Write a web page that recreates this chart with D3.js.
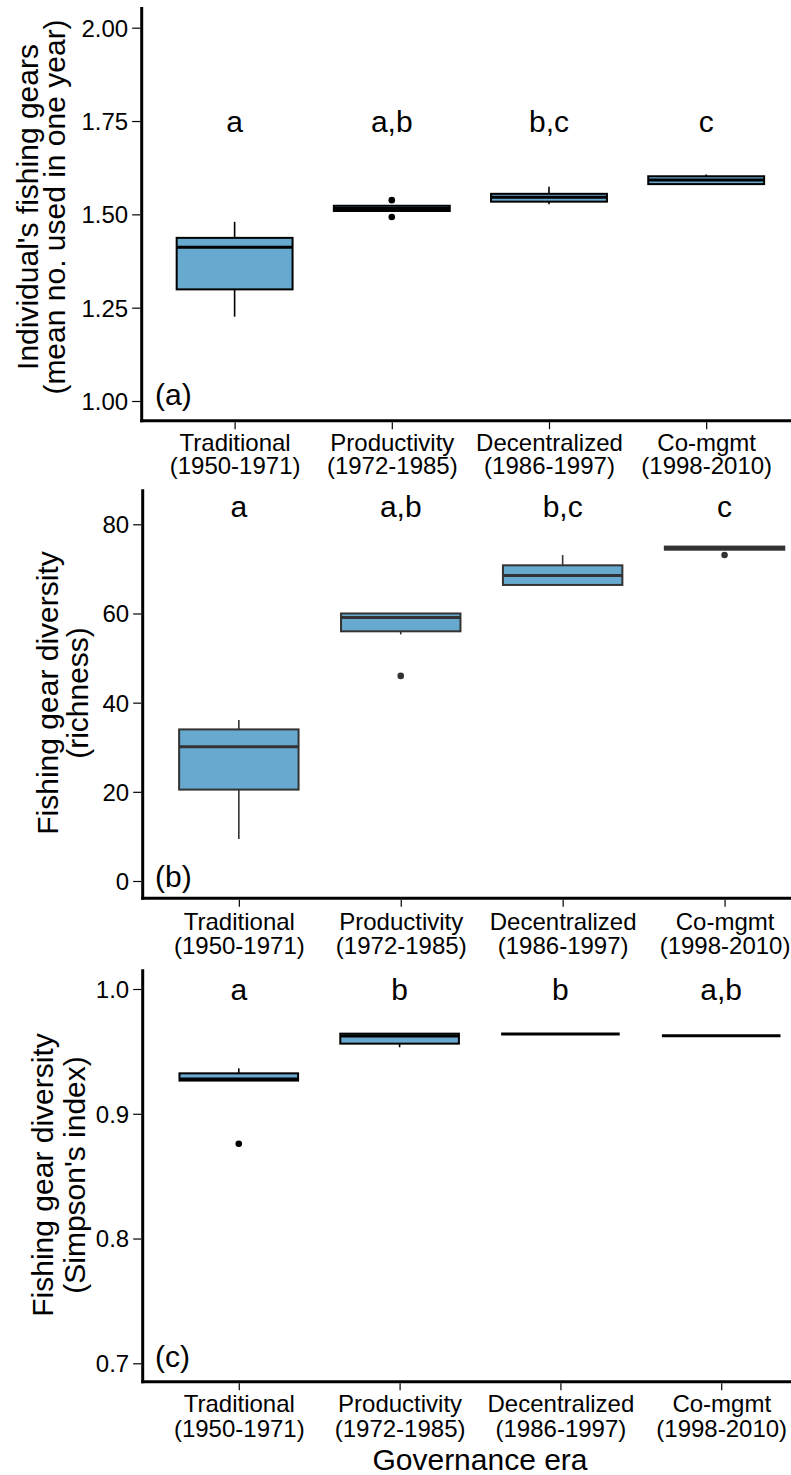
<!DOCTYPE html>
<html><head><meta charset="utf-8">
<script src="https://cdn.jsdelivr.net/npm/d3@7"></script>
<style>body{margin:0;background:#fff}svg{display:block;background:#fff}text{font-family:"Liberation Sans",Arial,sans-serif}</style>
</head><body><svg id="chart" width="791" height="1475"></svg>
<script>
// ---------- DATA ----------
const eraNames = ["Traditional", "Productivity", "Decentralized", "Co-mgmt"];
const eraYears = ["(1950-1971)", "(1972-1985)", "(1986-1997)", "(1998-2010)"];

// each box: [lower whisker, Q1, median, Q3, upper whisker]
const gearsStats = [
  [1.226, 1.299, 1.412, 1.437, 1.480],
  [1.509, 1.509, 1.516, 1.523, 1.523],
  [1.527, 1.534, 1.546, 1.555, 1.574],
  [1.581, 1.581, 1.592, 1.602, 1.607]
];
const gearsOutliers = [[], [1.538, 1.493], [], []];
const gearsLetters = ["a", "a,b", "b,c", "c"];
const gearsTicks = [1.00, 1.25, 1.50, 1.75, 2.00];

const richStats = [
  [9.4, 20.5, 30.1, 34.0, 36.1],
  [55.3, 56.0, 59.1, 60.0, 60.0],
  [66.4, 66.4, 68.5, 70.8, 73.1],
  [74.3, 74.3, 74.6, 75.0, 75.0]
];
const richOutliers = [[], [46.0], [], [73.1]];
const richLetters = ["a", "a,b", "b,c", "c"];
const richTicks = [0, 20, 40, 60, 80];

const simpStats = [
  [0.9266, 0.9266, 0.9279, 0.9324, 0.9364],
  [0.9533, 0.9562, 0.9623, 0.9642, 0.9642],
  [0.9639, 0.9639, 0.9639, 0.9639, 0.9639],
  [0.9626, 0.9626, 0.9626, 0.9626, 0.9626]
];
const simpOutliers = [[0.876], [], [], []];
const simpLetters = ["a", "b", "b", "a,b"];
const simpTicks = [0.7, 0.8, 0.9, 1.0];

const xTitle = "Governance era";

// ---------- LAYOUT ----------
const svg = d3.select("#chart");
const FILL = "#67a9cf";

const panels = [
  { stats: gearsStats, outliers: gearsOutliers, letters: gearsLetters, ticks: gearsTicks,
    fmt: d3.format(".2f"), yDomain: [1, 2], yRange: [401, 27.7], top: 7, bottom: 420.7,
    axisX: 141.7, xRange: [140.3, 800.5], letterY: 1.75,
    title: ["Individual's fishing gears", "(mean no. used in one year)"], titleX: [38, 65], titleY: 207,
    tag: "(a)", tagY: 405, stroke: "#000", lab1: 30, lab2: 53.5 },
  { stats: richStats, outliers: richOutliers, letters: richLetters, ticks: richTicks,
    fmt: d3.format("d"), yDomain: [0, 80], yRange: [881, 524.3], top: 489.3, bottom: 898.3,
    axisX: 142.7, xRange: [141.7, 821.7], letterY: 84,
    title: ["Fishing gear diversity", "(richness)"], titleX: [58, 88], titleY: 693,
    tag: "(b)", tagY: 887.3, stroke: "#333", lab1: 32, lab2: 55.5 },
  { stats: simpStats, outliers: simpOutliers, letters: simpLetters, ticks: simpTicks,
    fmt: d3.format(".1f"), yDomain: [0.7, 1.0], yRange: [1363.3, 989], top: 969.3, bottom: 1381.7,
    axisX: 142.7, xRange: [142.3, 817.7], letterY: 1.0,
    title: ["Fishing gear diversity", "(Simpson's index)"], titleX: [53, 85], titleY: 1175,
    tag: "(c)", tagY: 1367.3, stroke: "#000", lab1: 30.8, lab2: 55.6 }
];

panels.forEach(p => {
  const g = svg.append("g");
  const x = d3.scalePoint().domain(eraNames).range(p.xRange).padding(0.6);
  const y = d3.scaleLinear().domain(p.yDomain).range(p.yRange);
  const bw = x.step() * 0.75 - 2;

  // boxes
  p.stats.forEach((s, i) => {
    const cx = x(eraNames[i]);
    const [lo, q1, med, q3, hi] = s;
    g.append("line").attr("x1", cx).attr("x2", cx).attr("y1", y(q3)).attr("y2", y(hi))
      .attr("stroke", p.stroke).attr("stroke-width", 1.6);
    g.append("line").attr("x1", cx).attr("x2", cx).attr("y1", y(q1)).attr("y2", y(lo))
      .attr("stroke", p.stroke).attr("stroke-width", 1.6);
    g.append("rect").attr("x", cx - bw / 2).attr("y", y(q3)).attr("width", bw)
      .attr("height", Math.max(0, y(q1) - y(q3)))
      .attr("fill", FILL).attr("stroke", p.stroke).attr("stroke-width", 2);
    g.append("line").attr("x1", cx - bw / 2).attr("x2", cx + bw / 2).attr("y1", y(med)).attr("y2", y(med))
      .attr("stroke", p.stroke).attr("stroke-width", 3);
    p.outliers[i].forEach(v => {
      g.append("circle").attr("cx", cx).attr("cy", y(v)).attr("r", 3.3).attr("fill", p.stroke);
    });
    g.append("text").attr("x", cx).attr("y", y(p.letterY) + 11).attr("text-anchor", "middle")
      .attr("font-size", 30).attr("fill", "#000").text(p.letters[i]);
  });

  // y axis
  const ya = g.append("g").attr("transform", `translate(${p.axisX - 1.5},0)`)
    .call(d3.axisLeft(y).tickValues(p.ticks).tickFormat(p.fmt).tickSize(8).tickPadding(4));
  ya.select(".domain").remove();
  ya.selectAll(".tick line").attr("stroke", "#000").attr("stroke-width", 1.2);
  ya.selectAll(".tick text").attr("font-size", 24).attr("fill", "#000")
    .attr("font-family", '"Liberation Sans",Arial,sans-serif').attr("dy", "0.35em");

  // x axis
  const xa = g.append("g").attr("transform", `translate(0,${p.bottom + 1.5})`)
    .call(d3.axisBottom(x).tickSize(7).tickSizeOuter(0));
  xa.select(".domain").remove();
  xa.selectAll(".tick line").attr("stroke", "#000").attr("stroke-width", 1.2);
  xa.selectAll(".tick text").text(null).attr("dy", null).attr("y", null)
    .attr("font-size", 24).attr("fill", "#000")
    .attr("font-family", '"Liberation Sans",Arial,sans-serif')
    .each(function (d, i) {
      const t = d3.select(this);
      t.append("tspan").attr("x", 0).attr("y", p.lab1 - 1.5).text(eraNames[i]);
      t.append("tspan").attr("x", 0).attr("y", p.lab2 - 1.5).text(eraYears[i]);
    });

  // axis lines
  g.append("line").attr("x1", p.axisX).attr("x2", p.axisX).attr("y1", p.top).attr("y2", p.bottom + 1.5)
    .attr("stroke", "#000").attr("stroke-width", 3);
  g.append("line").attr("x1", p.axisX - 1.5).attr("x2", 791).attr("y1", p.bottom).attr("y2", p.bottom)
    .attr("stroke", "#000").attr("stroke-width", 3);

  // tag
  g.append("text").attr("x", 155).attr("y", p.tagY).attr("font-size", 30).attr("fill", "#000").text(p.tag);

  // y title
  p.title.forEach((line, k) => {
    g.append("text").attr("transform", `translate(${p.titleX[k]},${p.titleY}) rotate(-90)`)
      .attr("text-anchor", "middle").attr("font-size", 30).attr("fill", "#000").text(line);
  });
});

svg.append("text").attr("x", 480).attr("y", 1470).attr("text-anchor", "middle")
  .attr("font-size", 30).attr("fill", "#000").text(xTitle);
</script></body></html>
